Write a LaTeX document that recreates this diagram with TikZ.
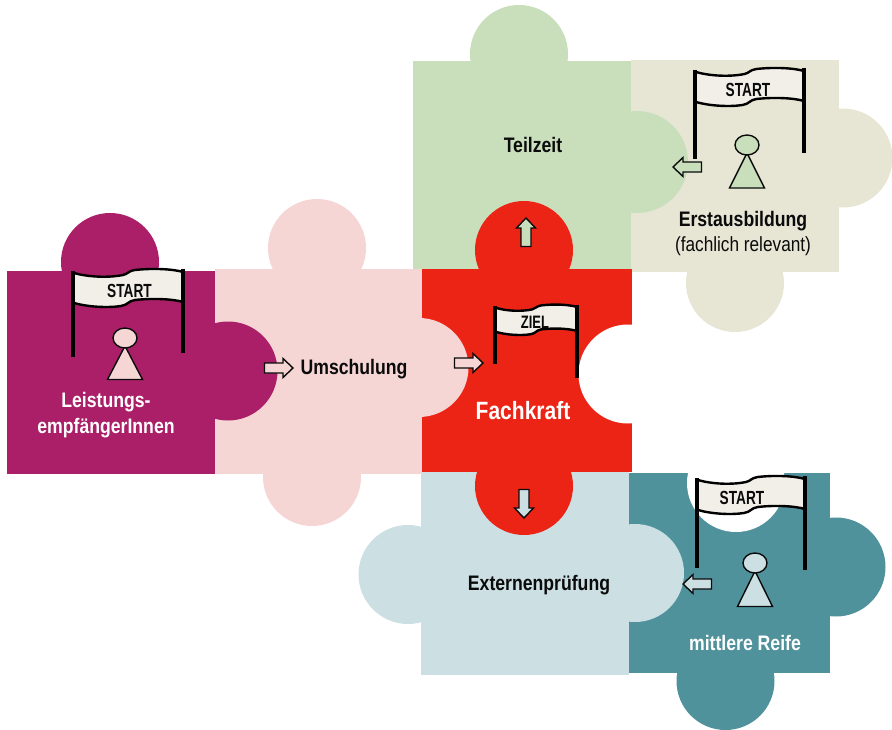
\documentclass[tikz,border=0pt]{standalone}
\usepackage{fontspec}
\setmainfont{Liberation Sans}
\newfontfamily\narrowfont[FakeStretch=0.84]{Liberation Sans}
\newfontfamily\flagfont[FakeStretch=0.72]{Liberation Sans}
\definecolor{cPurple}{HTML}{AA1F68}
\definecolor{cPink}{HTML}{F5D6D5}
\definecolor{cRed}{HTML}{EC2415}
\definecolor{cIce}{HTML}{CCE0E4}
\definecolor{cTeal}{HTML}{4F929B}
\definecolor{cGreen}{HTML}{C9DFBC}
\definecolor{cBeige}{HTML}{E7E6D5}
\definecolor{cFlag}{HTML}{F1EFE8}
\definecolor{cInk}{HTML}{0B0B0B}
\newcommand{\puzzlerect}[5]{\fill[#5] (#1,#2) rectangle (#3,#4);}
\newcommand{\puzzleknob}[4]{\fill[#4] (#1,#2) circle[radius=#3];}
% x y sx sy leftheight rightheight
\newcommand{\startflag}[6]{%
 \begin{scope}[shift={(#1,#2)},xscale=#3,yscale=#4]
  \path[fill=cFlag] (1,1) .. controls (15,5) and (35,6) .. (50,3) .. controls (55,2) and (55,-1) .. (62,-2) .. controls (80,-4) and (100,-3) .. (110,0) -- (110,30) .. controls (100,27) and (80,26) .. (62,28) .. controls (55,29) and (55,33) .. (48,34) .. controls (35,36) and (15,35) .. (1,31) -- cycle;
  \draw[flagedge] (1,1) .. controls (15,5) and (35,6) .. (50,3) .. controls (55,2) and (55,-1) .. (62,-2) .. controls (80,-4) and (100,-3) .. (110,0);
  \draw[flagedge] (110,30) .. controls (100,27) and (80,26) .. (62,28) .. controls (55,29) and (55,33) .. (48,34) .. controls (35,36) and (15,35) .. (1,31);
  \draw[flagpole] (0,-1) -- (0,#5);
  \draw[flagpole] (110,-3) -- (110,#6);
 \end{scope}}
% tip x, tip y, rotation, fill
\newcommand{\blockarrow}[4]{%
 \draw[arrowline,fill=#4,shift={(#1,#2)},rotate=#3] (0,0) -- (-10,-9.5) -- (-10,-5) -- (-28.5,-5) -- (-28.5,5) -- (-10,5) -- (-10,9.5) -- cycle;}
% head x, head y, base y, half width, fill
\newcommand{\pawn}[5]{%
 \draw[arrowline,fill=#5,line join=miter] (#1,#3) ++(-#4,0) -- (#1,#2+8) -- (#1+#4,#3) -- cycle;
 \draw[arrowline,fill=#5] (#1,#2) ellipse[x radius=12,y radius=10];}
\tikzset{
 x=1pt,y=-1pt,
 flagedge/.style={draw=black,line width=2.4pt,line cap=round},
 flagpole/.style={draw=black,line width=4.2pt},
 arrowline/.style={draw=cInk,line width=1.4pt,line join=miter},
 flagtext/.style={text=cInk,inner sep=0pt,font=\flagfont\bfseries\fontsize{19}{22}\selectfont},
 blacktext/.style={text=cInk,inner sep=0pt,align=center,font=\narrowfont\bfseries\fontsize{21}{25}\selectfont},
 whitetext/.style={text=white,inner sep=0pt,align=center,font=\narrowfont\bfseries\fontsize{21}{25}\selectfont},
}
\begin{document}
\begin{tikzpicture}
\useasboundingbox (0,0) rectangle (892,730);
% beige piece
\puzzleknob{843}{158}{49.5}{cBeige}
\puzzleknob{735}{283}{49}{cBeige}
\puzzlerect{631}{60}{839}{272}{cBeige}
% green piece
\puzzleknob{519}{54}{49}{cGreen}
\puzzlerect{413}{61}{631}{269}{cGreen}
\puzzleknob{637}{162}{51}{cGreen}
% teal piece
\puzzleknob{836}{567}{49.5}{cTeal}
\puzzleknob{725.5}{681}{49}{cTeal}
\puzzlerect{629}{473}{830}{673}{cTeal}
\puzzleknob{736}{483}{49}{white}
\fill[white] (680,440) rectangle (790,473);
% ice piece
\puzzleknob{408}{574.5}{49.5}{cIce}
\puzzlerect{421}{472}{629}{675}{cIce}
\puzzleknob{635}{573}{49}{cIce}
% red piece
\puzzleknob{524}{250}{49}{cRed}
\puzzleknob{524}{486}{49}{cRed}
\puzzlerect{422}{269}{632}{472}{cRed}
\begin{scope}
 \clip (560,269) rectangle (632,472);
 \puzzleknob{628}{374}{49.5}{white}
\end{scope}
% pink piece
\puzzleknob{317}{248}{49}{cPink}
\puzzleknob{312}{477}{49}{cPink}
\puzzlerect{215}{269}{422}{474}{cPink}
\puzzleknob{419}{367.5}{49.5}{cPink}
% purple piece
\puzzleknob{110}{262}{49}{cPurple}
\puzzlerect{7}{271}{215}{474}{cPurple}
\puzzleknob{228}{371}{49.5}{cPurple}
% flags
\startflag{73}{272}{1}{1}{85}{81}
\startflag{495}{307}{0.745}{0.8}{71}{89}
\startflag{695}{71}{0.99}{1}{88}{82}
\startflag{697}{479}{0.98}{1}{89}{91}
\node[flagtext] (s1) at (129.5,291) {START};
\node[flagtext,font=\flagfont\bfseries\fontsize{18}{22}\selectfont] (z1) at (535,322) {ZIEL};
\node[flagtext] (s2) at (748,90) {START};
\node[flagtext] (s3) at (742,498) {START};
% pawns
\pawn{125}{338}{379.5}{17.5}{cPink}
\pawn{747}{145}{188}{17.5}{cGreen}
\pawn{755}{563}{606.5}{17.5}{cIce}
% arrows
\blockarrow{293}{368}{0}{cPink}
\blockarrow{483}{363}{0}{cPink}
\blockarrow{526}{218}{90}{cGreen}
\blockarrow{673}{167}{180}{cGreen}
\blockarrow{524}{518}{-90}{cIce}
\blockarrow{683}{584}{180}{cIce}
% labels
\node[whitetext] (l1) at (106,402) {Leistungs-};
\node[whitetext] (l2) at (106,428) {empfängerInnen};
\node[blacktext] (u) at (354,369) {Umschulung};
\node[whitetext,font=\narrowfont\bfseries\fontsize{25}{30}\selectfont] (f) at (523,411) {Fachkraft};
\node[blacktext] (t) at (533,144.5) {Teilzeit};
\node[blacktext] (e) at (539,585) {Externenprüfung};
\node[whitetext] (m) at (745,643) {mittlere Reife};
\node[blacktext] (a1) at (743,221) {Erstausbildung};
\node[blacktext,font=\narrowfont\fontsize{20.5}{25}\selectfont] (a2) at (743,246) {(fachlich relevant)};
\end{tikzpicture}
\end{document}
